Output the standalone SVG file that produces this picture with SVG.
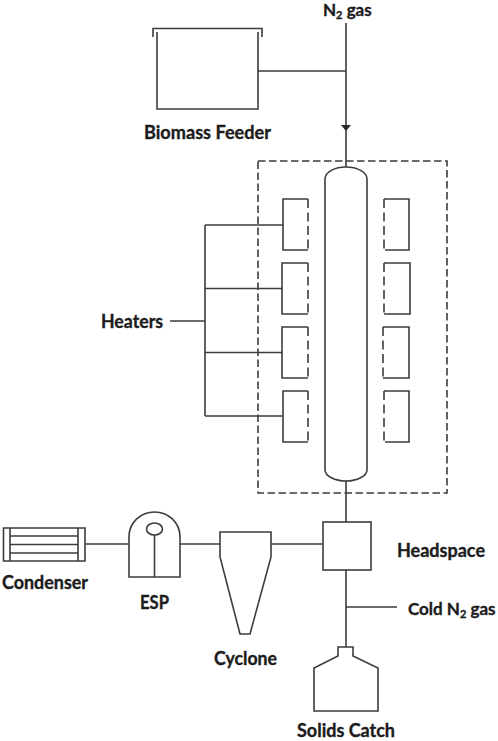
<svg xmlns="http://www.w3.org/2000/svg" width="498" height="741" viewBox="0 0 498 741">
<style>
.s{fill:none;stroke:#3c3c3c;stroke-width:1.6}
.d{fill:none;stroke:#3c3c3c;stroke-width:1.6;stroke-dasharray:9 4.500}
.e{fill:none;stroke:#3c3c3c;stroke-width:1.6;stroke-dasharray:7.500 3.500}
.t{font-family:Lato,"Liberation Sans",sans-serif;font-weight:700;font-size:18px;fill:#1c1c1c;stroke:#1c1c1c;stroke-width:.35}
.n{font-size:17px}
.u{font-size:11px}
</style>
<rect width="498" height="741" fill="#fff"/>
<g id="connectors">
<path class="s" d="M346 23V167M258 71H346M346 481V522M346 570V647M346 607H397M205 225V416M170 321H205M205 225H283M205 288.500H282M205 352.500H282M205 416H283M85 544H129M180 544H220M271 544H323"/>
<path d="M341 125H351L346 131Z" fill="#2a2a2a"/>
</g>
<g id="reactor-enclosure"><rect class="e" x="258" y="161" width="189" height="332"/></g>
<g id="feeder">
<path class="s" d="M153 37V28.500H262V37M157 32V109H258V32"/>
<text class="t" x="144" y="139" textLength="127" lengthAdjust="spacingAndGlyphs">Biomass Feeder</text>
</g>
<g id="n2-label"><text class="t n" x="323" y="16">N<tspan class="u" dy="3">2</tspan><tspan dy="-3"> gas</tspan></text></g>
<g id="column"><path class="s" d="M325 179C325 172 335 167 346 167C357 167 367 172 367 179V470C367 476 357 481 346 481C335 481 325 476 325 470Z"/></g>
<g id="heater-l1"><path class="s" d="M308 199H283V250H308"/><path class="d" d="M308 199V250"/></g>
<g id="heater-l2"><path class="s" d="M308 263H282V314H308"/><path class="d" d="M308 263V314"/></g>
<g id="heater-l3"><path class="s" d="M308 327H282V378H308"/><path class="d" d="M308 327V378"/></g>
<g id="heater-l4"><path class="s" d="M308 391H283V442H308"/><path class="d" d="M308 391V442"/></g>
<g id="heater-r1"><path class="s" d="M384 199H409V250H385"/><path class="d" d="M384 199V250"/></g>
<g id="heater-r2"><path class="s" d="M384 263H410V314H384"/><path class="d" d="M384 263V314"/></g>
<g id="heater-r3"><path class="s" d="M383 327H409V378H383"/><path class="d" d="M383 327V378"/></g>
<g id="heater-r4"><path class="s" d="M384 391H409V442H385"/><path class="d" d="M384 391V442"/></g>
<g id="heaters-label"><text class="t" x="101" y="328" textLength="62" lengthAdjust="spacingAndGlyphs">Heaters</text></g>
<g id="headspace"><rect class="s" x="323" y="522" width="48" height="48"/>
<text class="t" x="397" y="557" textLength="88" lengthAdjust="spacingAndGlyphs">Headspace</text></g>
<g id="cold-n2-label"><text class="t n" x="408" y="615">Cold N<tspan class="u" dy="3">2</tspan><tspan dy="-3"> gas</tspan></text></g>
<g id="solids-catch"><path class="s" d="M338 647H353V656L378 668V711H314V668L338 656Z"/>
<text class="t" x="297" y="737" textLength="98" lengthAdjust="spacingAndGlyphs">Solids Catch</text></g>
<g id="cyclone"><path class="s" d="M220 532H271V557L250 634H240L220 557Z"/>
<text class="t" x="214" y="665" textLength="63" lengthAdjust="spacingAndGlyphs">Cyclone</text></g>
<g id="esp"><path class="s" d="M129 577V537C129 522 141 512 154.500 512C168 512 180 522 180 537V577ZM154.500 535V577"/><ellipse class="s" cx="154.500" cy="529" rx="8" ry="6"/>
<text class="t" x="140" y="609" textLength="29" lengthAdjust="spacingAndGlyphs">ESP</text></g>
<g id="condenser"><path class="s" d="M3.500 528H85V561H3.500ZM10 528V561M78 528V561M10 536H78M10 544.500H78M10 553H78"/>
<text class="t" x="2" y="589" textLength="86" lengthAdjust="spacingAndGlyphs">Condenser</text></g>
</svg>
